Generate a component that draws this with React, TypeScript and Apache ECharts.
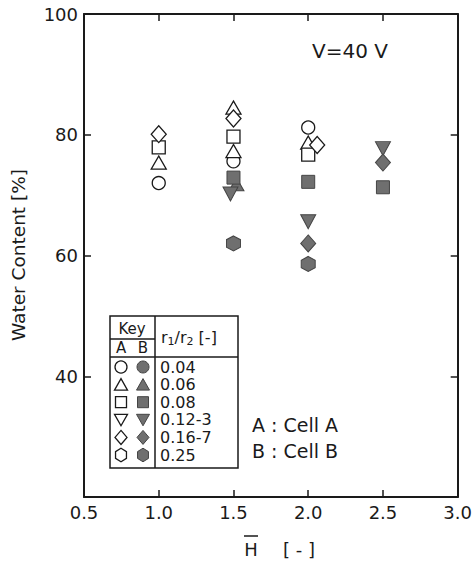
import React, { useEffect, useRef } from 'react';
import * as echarts from 'echarts';

// ---- data ----
const xTicks = [0.5, 1.0, 1.5, 2.0, 2.5, 3.0];
const yTicks = [20, 40, 60, 80, 100];
const ratioLabels = ['0.04', '0.06', '0.08', '0.12-3', '0.16-7', '0.25'];

// Cell A (open symbols)
const aCircleX = [1.0, 1.5, 2.0];
const aCircleY = [72, 75.6, 81.2];
const aTriangleX = [1.0, 1.5, 1.5, 2.0];
const aTriangleY = [75.4, 84.5, 77.3, 78.7];
const aSquareX = [1.0, 1.5, 2.0];
const aSquareY = [77.9, 79.7, 76.7];
const aInvTriX: number[] = [];
const aInvTriY: number[] = [];
const aDiamondX = [1.0, 1.5, 2.06];
const aDiamondY = [80.1, 82.7, 78.3];
const aHexX: number[] = [];
const aHexY: number[] = [];

// Cell B (filled symbols)
const bCircleX: number[] = [];
const bCircleY: number[] = [];
const bTriangleX = [1.52];
const bTriangleY = [71.8];
const bSquareX = [1.5, 2.0, 2.5];
const bSquareY = [72.9, 72.2, 71.3];
const bInvTriX = [1.48, 2.0, 2.5];
const bInvTriY = [70.2, 65.6, 77.7];
const bDiamondX = [2.0, 2.5];
const bDiamondY = [62.0, 75.4];
const bHexX = [1.5, 2.0];
const bHexY = [62.0, 58.6];

const HEX = 'path://M0,-10 L8.66,-5 L8.66,5 L0,10 L-8.66,5 L-8.66,-5 Z';
const FONT = 'DejaVu Sans';
const INK = '#1a1a1a';
const FILL = '#6f6f6f';

const zip = (xs: number[], ys: number[]) => xs.map((x, i) => [x, ys[i]]);

type Sym = { symbol: string; size: number | number[]; rotate?: number };
const SYMS: Sym[] = [
  { symbol: 'circle', size: 13 },
  { symbol: 'triangle', size: [15, 13] },
  { symbol: 'rect', size: 13 },
  { symbol: 'triangle', size: [15, 14], rotate: 180 },
  { symbol: 'diamond', size: [15, 17] },
  { symbol: HEX, size: [14, 15] },
];

const openSets = [
  zip(aCircleX, aCircleY),
  zip(aTriangleX, aTriangleY),
  zip(aSquareX, aSquareY),
  zip(aInvTriX, aInvTriY),
  zip(aDiamondX, aDiamondY),
  zip(aHexX, aHexY),
];
const filledSets = [
  zip(bCircleX, bCircleY),
  zip(bTriangleX, bTriangleY),
  zip(bSquareX, bSquareY),
  zip(bInvTriX, bInvTriY),
  zip(bDiamondX, bDiamondY),
  zip(bHexX, bHexY),
];

function legendSymbol(kind: number, cx: number, cy: number, filled: boolean): any {
  const style = filled
    ? { fill: FILL, stroke: '#444', lineWidth: 1 }
    : { fill: '#fff', stroke: INK, lineWidth: 1.3 };
  const r = 6;
  let el: any;
  switch (kind) {
    case 0:
      el = { type: 'circle', shape: { cx, cy, r }, style };
      break;
    case 1:
      el = { type: 'polygon', shape: { points: [[cx, cy - 6], [cx + 6.5, cy + 5.5], [cx - 6.5, cy + 5.5]] }, style };
      break;
    case 2:
      el = { type: 'rect', shape: { x: cx - 5.5, y: cy - 5.5, width: 11, height: 11 }, style };
      break;
    case 3:
      el = { type: 'polygon', shape: { points: [[cx - 6.5, cy - 5.5], [cx + 6.5, cy - 5.5], [cx, cy + 6]] }, style };
      break;
    case 4:
      el = { type: 'polygon', shape: { points: [[cx, cy - 7], [cx + 6, cy], [cx, cy + 7], [cx - 6, cy]] }, style };
      break;
    default: {
      const pts = [0, 1, 2, 3, 4, 5].map((k) => {
        const a = -Math.PI / 2 + (k * Math.PI) / 3;
        return [cx + 6.3 * Math.cos(a), cy + 6.8 * Math.sin(a)];
      });
      el = { type: 'polygon', shape: { points: pts }, style };
    }
  }
  el.z = 12;
  return el;
}

export default function App() {
  const ref = useRef<HTMLDivElement>(null);
  useEffect(() => {
    if (!ref.current) return;
    const chart = echarts.init(ref.current, null, { renderer: 'svg' });

    const series: any[] = [];
    SYMS.forEach((s, i) => {
      series.push({
        type: 'scatter',
        name: 'A ' + ratioLabels[i],
        data: openSets[i],
        symbol: s.symbol,
        symbolSize: s.size,
        symbolRotate: s.rotate || 0,
        itemStyle: { color: '#fff', borderColor: INK, borderWidth: 1.3, opacity: 1 },
        z: 3,
      });
    });
    SYMS.forEach((s, i) => {
      series.push({
        type: 'scatter',
        name: 'B ' + ratioLabels[i],
        data: filledSets[i],
        symbol: s.symbol,
        symbolSize: s.size,
        symbolRotate: s.rotate || 0,
        itemStyle: { color: FILL, borderColor: '#444', borderWidth: 1, opacity: 1 },
        z: 4,
      });
    });

    // Legend table
    const tL = 110, tR = 238, tT = 316, tB = 468, tDiv = 155;
    const rowY0 = 367, rowH = 17.6;
    const g: any[] = [
      { type: 'rect', shape: { x: tL, y: tT, width: tR - tL, height: tB - tT }, style: { fill: '#fff', stroke: INK, lineWidth: 1.5 }, z: 10 },
      { type: 'line', shape: { x1: tDiv, y1: tT, x2: tDiv, y2: tB }, style: { stroke: INK, lineWidth: 1.5 }, z: 11 },
      { type: 'line', shape: { x1: tL, y1: 339, x2: tDiv, y2: 339 }, style: { stroke: INK, lineWidth: 1.3 }, z: 11 },
      { type: 'line', shape: { x1: tL, y1: 357, x2: tR, y2: 357 }, style: { stroke: INK, lineWidth: 1.5 }, z: 11 },
      { type: 'text', x: 132, y: 329, style: { text: 'Key', font: `15px "${FONT}"`, fill: INK, align: 'center', verticalAlign: 'middle' }, z: 11 },
      { type: 'text', x: 121, y: 348, style: { text: 'A', font: `15px "${FONT}"`, fill: INK, align: 'center', verticalAlign: 'middle' }, z: 11 },
      { type: 'text', x: 143, y: 348, style: { text: 'B', font: `15px "${FONT}"`, fill: INK, align: 'center', verticalAlign: 'middle' }, z: 11 },
      {
        type: 'text', x: 161, y: 337, z: 11,
        style: {
          text: '{m|r}{s|1}{m|/r}{s|2}{m| [-]}',
          verticalAlign: 'middle',
          fill: INK,
          rich: {
            m: { fontFamily: FONT, fontSize: 16, fill: INK },
            s: { fontFamily: FONT, fontSize: 11, fill: INK, verticalAlign: 'bottom', padding: [8, 0, 0, 0] },
          },
        },
      },
    ];
    ratioLabels.forEach((lab, i) => {
      const y = rowY0 + i * rowH;
      g.push(legendSymbol(i, 121, y, false));
      g.push(legendSymbol(i, 143, y, true));
      g.push({ type: 'text', x: 160, y, style: { text: lab, font: `16px "${FONT}"`, fill: INK, verticalAlign: 'middle' }, z: 11 });
    });

    // annotations
    g.push({ type: 'text', x: 312, y: 51, style: { text: 'V=40 V', font: `20px "${FONT}"`, fill: INK, verticalAlign: 'middle' }, z: 11 });
    g.push({ type: 'text', x: 252, y: 425, style: { text: 'A : Cell A', font: `19px "${FONT}"`, fill: INK, verticalAlign: 'middle' }, z: 11 });
    g.push({ type: 'text', x: 252, y: 451, style: { text: 'B : Cell B', font: `19px "${FONT}"`, fill: INK, verticalAlign: 'middle' }, z: 11 });
    // axis names
    g.push({ type: 'text', x: 251, y: 549, style: { text: 'H', font: `18px "${FONT}"`, fill: INK, align: 'center', verticalAlign: 'middle' }, z: 11 });
    g.push({ type: 'line', shape: { x1: 244, y1: 536, x2: 258, y2: 536 }, style: { stroke: INK, lineWidth: 1.5 }, z: 11 });
    g.push({ type: 'text', x: 283, y: 549, style: { text: '[ - ]', font: `18px "${FONT}"`, fill: INK, verticalAlign: 'middle' }, z: 11 });
    g.push({ type: 'text', x: 18, y: 255, rotation: Math.PI / 2, style: { text: 'Water Content [%]', font: `18.5px "${FONT}"`, fill: INK, align: 'center', verticalAlign: 'middle' }, z: 11 });

    const axisLine = { show: true, lineStyle: { color: INK, width: 2 } };
    const axisTick = { show: true, inside: true, length: 7, lineStyle: { color: INK, width: 1.5 } };

    chart.setOption({
      animation: false,
      backgroundColor: '#fff',
      grid: { left: 84, right: 14, top: 14, bottom: 66, containLabel: false },
      xAxis: [
        {
          type: 'value', min: xTicks[0], max: xTicks[xTicks.length - 1], interval: 0.5, position: 'bottom',
          axisLine, axisTick, splitLine: { show: false },
          axisLabel: { formatter: (v: number) => v.toFixed(1), fontFamily: FONT, fontSize: 18, color: INK, margin: 6 },
        },
        {
          type: 'value', min: xTicks[0], max: xTicks[xTicks.length - 1], interval: 0.5, position: 'top',
          axisLine, axisTick, splitLine: { show: false }, axisLabel: { show: false },
        },
      ],
      yAxis: [
        {
          type: 'value', min: yTicks[0], max: yTicks[yTicks.length - 1], interval: 20, position: 'left',
          axisLine, axisTick, splitLine: { show: false },
          axisLabel: { formatter: (v: number) => (v === yTicks[0] ? '' : String(v)), fontFamily: FONT, fontSize: 18, color: INK, margin: 6 },
        },
        {
          type: 'value', min: yTicks[0], max: yTicks[yTicks.length - 1], interval: 20, position: 'right',
          axisLine, axisTick, splitLine: { show: false }, axisLabel: { show: false },
        },
      ],
      series,
      graphic: g,
    });
    return () => chart.dispose();
  }, []);
  return <div ref={ref} style={{ position: 'absolute', left: 0, top: 0, width: 475, height: 563 }} />;
}
